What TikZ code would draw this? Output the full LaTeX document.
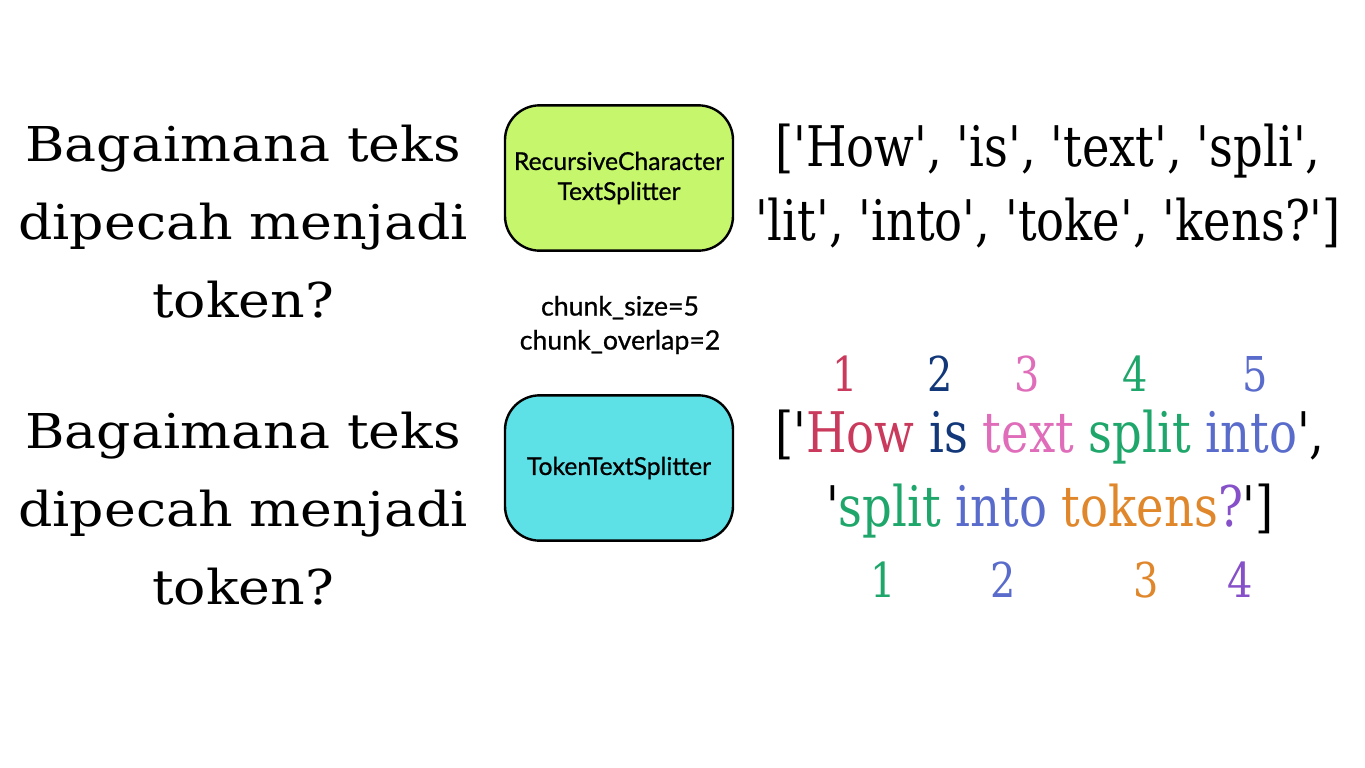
\documentclass[tikz,border=0pt]{standalone}
\usepackage{fontspec}
\usepackage{tikz}
\newfontfamily\qfont{DejaVu Serif}[FakeStretch=1.12]
\newfontfamily\listfont{DejaVu Serif}[FakeStretch=0.83]
\newfontfamily\boxfont{Lato}[FakeBold=0.8]
\definecolor{wordred}{HTML}{C93A5C}
\definecolor{wordnavy}{HTML}{12387A}
\definecolor{wordpink}{HTML}{E06DBA}
\definecolor{wordgreen}{HTML}{1FA66A}
\definecolor{wordblue}{HTML}{5A6CCB}
\definecolor{wordorange}{HTML}{E0872C}
\definecolor{wordpurple}{HTML}{8650C9}
\definecolor{boxgreen}{HTML}{C6F66C}
\definecolor{boxcyan}{HTML}{5DE0E6}

\begin{document}
\begin{tikzpicture}[
x=0.75pt, y=-0.75pt,
block/.style={rectangle, draw, line width=1.8pt, rounded corners=26pt,
minimum width=171pt, minimum height=109pt, align=center,
font=\boxfont\fontsize{18.5}{22.5}\selectfont},
question/.style={align=center, font=\qfont\fontsize{36}{58.5}\selectfont},
tokens/.style={align=center, font=\listfont\fontsize{42}{55}\selectfont},
num/.style={font=\listfont\fontsize{36}{36}\selectfont}
]
\fill[white] (0,0) rectangle (1365,768);
\useasboundingbox (0,0) rectangle (1365,768);

% questions
\node[question] (n1) at (243,222) {Bagaimana teks\\dipecah menjadi\\token?};
\node[question] (n2) at (243,509) {Bagaimana teks\\dipecah menjadi\\token?};

% splitters
\node[block, fill=boxgreen] (n3) at (619,178) {RecursiveCharacter\\TextSplitter};
\node[block, fill=boxcyan] (n4) at (619,468) {TokenTextSplitter};
\node[align=center, font=\boxfont\fontsize{20}{25.5}\selectfont] (n5) at (620,325) {chunk\_size=5\\chunk\_overlap=2};

% results
\node[tokens] (n6) at (1048,186) {['How', 'is', 'text', 'spli',\\'lit', 'into', 'toke', 'kens?']};
\node[tokens] (n7) at (1050,474) {['{\color{wordred}How} {\color{wordnavy}is} {\color{wordpink}text} {\color{wordgreen}split} {\color{wordblue}into}',\\'{\color{wordgreen}split} {\color{wordblue}into} {\color{wordorange}tokens}{\color{wordpurple}?}']};

% chunk numbers
\node[num, text=wordred] (n8) at (845,374) {1};
\node[num, text=wordnavy] (n9) at (940,374) {2};
\node[num, text=wordpink] (n10) at (1027,374) {3};
\node[num, text=wordgreen] (n11) at (1135,374) {4};
\node[num, text=wordblue] (n12) at (1255,374) {5};
\node[num, text=wordgreen] (n13) at (883,580) {1};
\node[num, text=wordblue] (n14) at (1003,580) {2};
\node[num, text=wordorange] (n15) at (1146,580) {3};
\node[num, text=wordpurple] (n16) at (1240,580) {4};
\end{tikzpicture}
\end{document}
